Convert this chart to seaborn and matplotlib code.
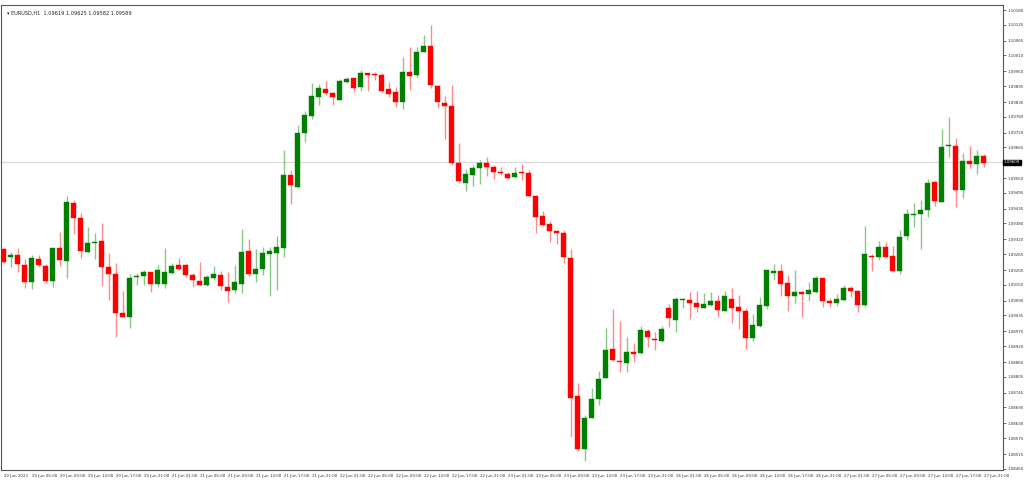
import numpy as np
import pandas as pd
import matplotlib
matplotlib.use("Agg")
import matplotlib.pyplot as plt
import seaborn as sns

# hourly EURUSD candles (1e-5 units, before level calibration)
OPEN_RAW = [109621,109591,109599,109561,109498,109584,109558,109501,109625,109576,109794,109738,109610,109644,109651,109554,109528,109381,109366,109516,
            109520,109535,109490,109490,109531,109561,109561,109524,109501,109486,109513,109524,109479,109468,109490,109614,109528,109546,109603,109606,
            109625,109899,109854,110056,110120,110191,110221,110206,110180,110248,110263,110229,110281,110278,110274,110221,110210,110173,110285,110274,
            110360,110383,110233,110169,110158,109944,109870,109899,109925,109944,109930,109910,109903,109891,109910,109906,109820,109745,109715,109689,
            109681,109588,109070,108871,108988,109059,109138,109246,109201,109194,109235,109231,109314,109284,109276,109400,109355,109430,109430,109419,
            109400,109411,109426,109389,109434,109404,109389,109288,109333,109408,109531,109539,109494,109445,109460,109453,109460,109513,109426,109419,
            109430,109475,109464,109411,109595,109591,109629,109595,109539,109670,109749,109753,109768,109873,109798,110008,110008,109843,109951,109940,
            109970]
HIGH_RAW = [109625,109610,109625,109584,109599,109599,109565,109625,109685,109820,109805,109756,109704,109681,109719,109606,109569,109464,109528,109531,
            109543,109535,109561,109625,109569,109588,109565,109531,109573,109524,109558,109539,109535,109561,109696,109659,109621,109629,109629,109670,
            109993,109918,110086,110139,110244,110240,110251,110210,110259,110266,110266,110293,110281,110285,110281,110248,110229,110341,110379,110379,
            110424,110461,110236,110195,110236,110019,109921,109936,109955,109966,109936,109929,109910,109929,109940,109918,109824,109764,109726,109693,
            109693,109621,109119,108999,109100,109164,109325,109396,109351,109291,109269,109333,109321,109310,109333,109415,109441,109438,109460,109464,
            109456,109460,109449,109464,109475,109449,109400,109378,109441,109543,109565,109565,109524,109543,109464,109498,109520,109513,109438,109453,
            109486,109483,109468,109708,109603,109651,109648,109633,109693,109771,109794,109805,109884,109876,110071,110116,110038,109981,110008,109993,
            109978]
LOW_RAW = [109569,109554,109535,109475,109471,109554,109494,109479,109558,109513,109678,109588,109606,109584,109483,109430,109291,109366,109325,109486,
           109486,109460,109479,109475,109528,109543,109516,109479,109486,109483,109505,109468,109423,109456,109456,109520,109498,109524,109445,109468,
           109591,109790,109850,110023,110109,110161,110199,110161,110180,110244,110210,110214,110214,110255,110210,110191,110154,110146,110218,110266,
           110360,110225,110150,110034,109936,109870,109839,109858,109865,109895,109884,109899,109884,109888,109880,109816,109681,109708,109648,109640,
           109569,108916,108864,108826,108988,109036,109138,109201,109160,109160,109198,109228,109254,109243,109273,109329,109310,109400,109359,109385,
           109400,109408,109366,109389,109344,109321,109246,109276,109329,109396,109505,109445,109389,109419,109366,109426,109456,109404,109404,109408,
           109426,109441,109385,109404,109539,109580,109591,109535,109528,109655,109704,109621,109741,109783,109798,109966,109779,109813,109925,109903,
           109930]
CLOSE_RAW = [109573,109599,109565,109498,109588,109561,109501,109625,109580,109798,109738,109614,109644,109648,109554,109528,109381,109366,109513,109520,
             109535,109490,109543,109535,109558,109546,109524,109505,109486,109516,109528,109483,109464,109498,109610,109528,109546,109606,109614,109629,
             109899,109861,110056,110124,110195,110225,110206,110191,110251,110259,110225,110281,110274,110274,110214,110203,110173,110285,110270,110360,
             110383,110236,110173,110158,109944,109876,109903,109925,109944,109930,109910,109906,109888,109906,109906,109820,109741,109711,109689,109681,
             109591,109063,108871,108988,109059,109134,109243,109205,109198,109235,109228,109318,109291,109280,109321,109363,109434,109434,109419,109404,
             109415,109426,109393,109445,109400,109389,109288,109336,109411,109543,109539,109490,109445,109460,109453,109468,109513,109426,109419,109434,
             109475,109464,109411,109603,109591,109629,109591,109539,109666,109753,109753,109768,109869,109801,110004,110011,109843,109951,109940,109970,
             109944]
LEVEL_CAL = 0.003375  # picture-scale calibration of the raw readings

Y_TICKS = [1.10180,1.10125,1.10065,1.10010,1.09950,1.09895,1.09835,1.09780,1.09720,1.09665,1.09550,1.09495,1.09435,
           1.09380,1.09320,1.09265,1.09205,1.09150,1.09090,1.09035,1.08975,1.08920,1.08860,1.08805,1.08745,1.08690,
           1.08630,1.08575,1.08515,1.08460]
CURRENT = 1.09609
TITLE = "EURUSD,H1  1.09619 1.09625 1.09582 1.09589"

o = np.array(OPEN_RAW) / 1e5 - LEVEL_CAL
h = np.array(HIGH_RAW) / 1e5 - LEVEL_CAL
l = np.array(LOW_RAW) / 1e5 - LEVEL_CAL
c = np.array(CLOSE_RAW) / 1e5 - LEVEL_CAL
n = len(o)

times = list(pd.date_range("2023-06-20 01:00", "2023-06-23 23:00", freq="h")) + \
        list(pd.date_range("2023-06-26 00:00", periods=n - 95, freq="h"))
df = pd.DataFrame({"i": np.arange(n), "o": o, "h": h, "l": l, "c": c, "t": times})
df["up"] = df.c >= df.o

sns.set_style("white")
plt.rcParams["font.family"] = ["DejaVu Sans"]
fig = plt.figure(figsize=(10.24, 4.83), dpi=100)
ax = fig.add_axes([1/1024, 13/483, 1002/1024, 465/483])

GREEN, RED = "#008000", "#ff0000"
for up, col in [(True, GREEN), (False, RED)]:
    d = df[df.up == up]
    ax.vlines(d.i, d.l, d.h, color=col, alpha=0.45, lw=1.0, zorder=2)
    ax.bar(d.i, (d.c - d.o).abs().clip(lower=0.00003), bottom=np.minimum(d.o, d.c),
           width=0.72, color=col, edgecolor=col, lw=0.3, zorder=3)

ax.axhline(CURRENT, color="#d9d9d9", lw=0.8, zorder=1)
ax.set_xlim(-0.4, 142.75)
ax.set_ylim(1.08455, 1.10199)

ax.yaxis.tick_right()
ax.set_yticks(Y_TICKS)
ax.set_yticklabels([f"{v:.5f}" for v in Y_TICKS], fontsize=2.9)
ax.tick_params(axis="y", length=2, width=0.5, pad=1.0, colors="#333333")
xt = list(range(0, n, 4))
xl = ["20 Jun 2023" if k == 0 else df.t[k].strftime("%d %b %H:%M").lstrip("0") for k in xt]
ax.set_xticks(xt)
ax.set_xticklabels(xl, fontsize=2.9, ha="left")
ax.tick_params(axis="x", length=2, width=0.5, pad=1.0, colors="#333333")
for s in ax.spines.values():
    s.set_color("#555555")
    s.set_linewidth(0.8)

ax.text(1.001, CURRENT, f"{CURRENT:.5f}", transform=ax.get_yaxis_transform(), fontsize=2.9,
        color="white", va="center", ha="left",
        bbox=dict(boxstyle="square,pad=0.15", fc="black", ec="black"))
ax.text(0.006, 0.988, "\u25be " + TITLE, transform=ax.transAxes, fontsize=3.6, va="top", ha="left", color="#222222")

fig.savefig("out.png", dpi=100, facecolor="white")
